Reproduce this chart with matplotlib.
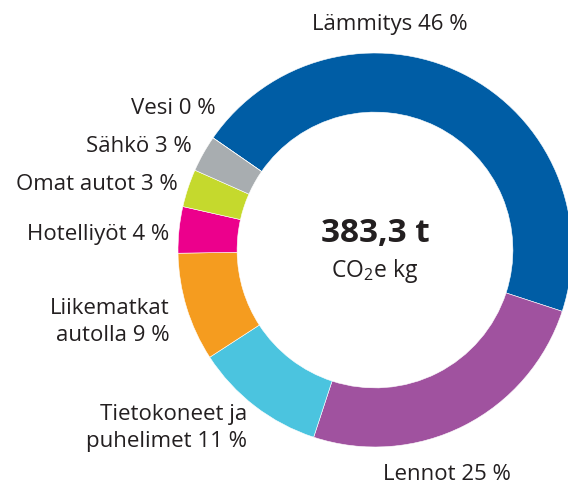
import matplotlib.pyplot as plt

plt.rcParams['font.family'] = ['Open Sans', 'DejaVu Sans']
plt.rcParams['mathtext.fontset'] = 'custom'
plt.rcParams['mathtext.rm'] = 'Open Sans'

# Shares of emissions (%), read from the ring
categories = ["Lämmitys", "Lennot", "Tietokoneet ja puhelimet", "Liikematkat autolla",
              "Hotelliyöt", "Omat autot", "Sähkö", "Vesi"]
shares = [45.4, 25.0, 10.8, 8.9, 3.8, 3.1, 3.0, 0.0]
labels = ["Lämmitys 46 %", "Lennot 25 %", "Tietokoneet ja\npuhelimet 11 %",
          "Liikematkat\nautolla 9 %", "Hotelliyöt 4 %", "Omat autot 3 %",
          "Sähkö 3 %", "Vesi 0 %"]
colors = ["#005DA5", "#A0529F", "#4BC4DF", "#F59C1F", "#EC008C", "#C5D92D",
          "#A8ADB0", "#3E8FD0"]
total_text = "383,3 t"
unit_text = r"CO$_\mathregular{2}$e kg"

W, H = 568, 486
fig = plt.figure(figsize=(W / 100, H / 100), dpi=100)
ax = fig.add_axes([0, 0, 1, 1])

cx, cy, r = 375, H - 250, 197
ax.pie(shares, colors=colors, startangle=145.3, counterclock=False,
       center=(cx, cy), radius=r, frame=True,
       wedgeprops=dict(width=r * 0.30, edgecolor='white', linewidth=0.4))
ax.set_xlim(0, W)
ax.set_ylim(0, H)
ax.set_aspect('equal')
ax.axis('off')

# label positions in pixel coords (x, y from top, alignment)
label_pos = [
    (390, 25, 'center'),
    (383, 475, 'left'),
    (247, 428, 'right'),
    (170, 322, 'right'),
    (169, 235, 'right'),
    (178, 185, 'right'),
    (192, 146, 'right'),
    (216, 108, 'right'),
]
for text, (x, y, ha) in zip(labels, label_pos):
    ax.text(x, H - y, text, ha=ha, va='center', fontsize=16, color='#231F20',
            linespacing=1.35)

ax.text(cx, H - 234, total_text, ha='center', va='center', fontsize=24,
        fontweight='bold', color='#231F20')
ax.text(cx, H - 271, unit_text, ha='center', va='center', fontsize=16.5,
        color='#231F20')

fig.savefig("out.png", dpi=100)
